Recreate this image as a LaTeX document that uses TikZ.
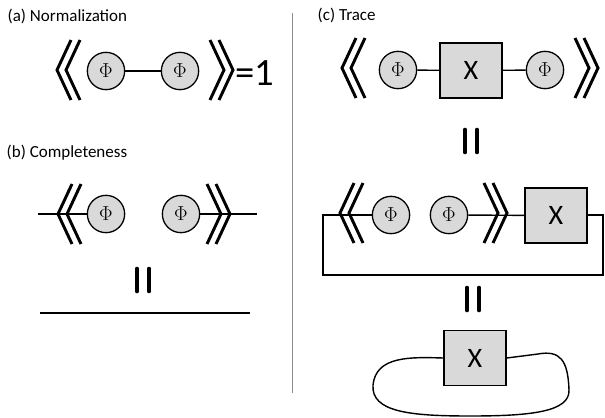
\documentclass[tikz,border=0pt]{standalone}
\usepackage{fontspec}
\setmainfont{Carlito}
\usetikzlibrary{positioning}

\begin{document}
\begin{tikzpicture}[x=0.03cm, y=-0.03cm, line width=1.2pt,
		phi/.style = {circle, draw, fill=black!15, minimum size=1.12cm, inner sep=0pt, line width=1.1pt, font=\fontsize{18}{18}\selectfont},
		opbox/.style = {draw, fill=black!15, minimum width=1.86cm, minimum height=1.65cm, line width=1.4pt, font=\fontsize{24}{24}\selectfont},
		lbl/.style = {anchor=base west, inner sep=0pt, font=\fontsize{14.5}{17}\selectfont},
		lchev/.pic = {\draw[line width=2.5pt] (14,-30) -- (0,0) -- (14,30) (23,-30) -- (9,0) -- (23,30);},
		rchev/.pic = {\draw[line width=2.5pt] (-14,-30) -- (0,0) -- (-14,30) (-23,-30) -- (-9,0) -- (-23,30);},
		vequal/.pic = {\draw[line width=4pt, line cap=round] (-6,-11) -- (-6,11) (6,-11) -- (6,11);}
	]
	\useasboundingbox (0,0) rectangle (605,418);

	% separator
	\draw[black!45, line width=0.6pt] (292,13) -- (292,393);

	% (a) normalization
	\begin{scope}
		\node [lbl] (la) at (7,21) {(a) Normalization};
		\node [phi] (pa1) at (106,71) {$\Phi$};
		\node [phi] (pa2) at (180,71) {$\Phi$};
		\draw (pa1) -- (pa2);
		\pic at (57,70) {lchev};
		\pic at (233,70) {rchev};
		\node [anchor=west, inner sep=0pt, font=\fontsize{33}{33}\selectfont] (one) at (235,73) {=1};
	\end{scope}

	% (b) completeness
	\begin{scope}
		\node [lbl] (lb) at (6,157) {(b) Completeness};
		\coordinate (bL) at (38,214);
		\coordinate (bR) at (257,214);
		\node [phi] (pb1) at (106,214) {$\Phi$};
		\node [phi] (pb2) at (181,214) {$\Phi$};
		\draw (bL) -- (pb1);
		\draw (pb2) -- (bR);
		\pic at (58,214) {lchev};
		\pic at (230,214) {rchev};
		\pic at (143,280) {vequal};
		\coordinate (bl1) at (40,313);
		\coordinate (bl2) at (250,313);
		\draw (bl1) -- (bl2);
	\end{scope}

	% (c) trace
	\begin{scope}
		\node [lbl] (lc) at (317,20) {(c) Trace};
		\node [phi] (pc1) at (398,70) {$\Phi$};
		\node [opbox] (cx1) at (471,70.5) {X};
		\node [phi] (pc2) at (545,70) {$\Phi$};
		\draw (pc1) -- (cx1);
		\draw (cx1) -- (pc2);
		\pic at (342,68) {lchev};
		\pic at (598,68) {rchev};
		\pic at (471,141) {vequal};

		\node [phi] (pm1) at (391,215) {$\Phi$};
		\node [phi] (pm2) at (449,215) {$\Phi$};
		\node [opbox] (cx2) at (556,215.5) {X};
		\coordinate (lpA) at (323,215);
		\coordinate (lpB) at (323,275);
		\coordinate (lpC) at (603,275);
		\coordinate (lpD) at (603,215);
		\draw (pm1.west) -- (lpA) -- (lpB) -- (lpC) -- (lpD) -- (cx2.east |- lpD);
		\draw (pm2) -- (cx2);
		\pic at (340,213) {lchev};
		\pic at (507,213) {rchev};
		\pic at (473,299) {vequal};

		\node [opbox] (cx3) at (475,358) {X};
		\draw (cx3.west) .. controls (410,357) and (376,356) .. (373,385)
			.. controls (371,412) and (410,416) .. (470,416)
			.. controls (530,416) and (570,412) .. (569,390)
			.. controls (568,360) and (560,350) .. (538,354) -- (cx3.east);
	\end{scope}
\end{tikzpicture}
\end{document}
